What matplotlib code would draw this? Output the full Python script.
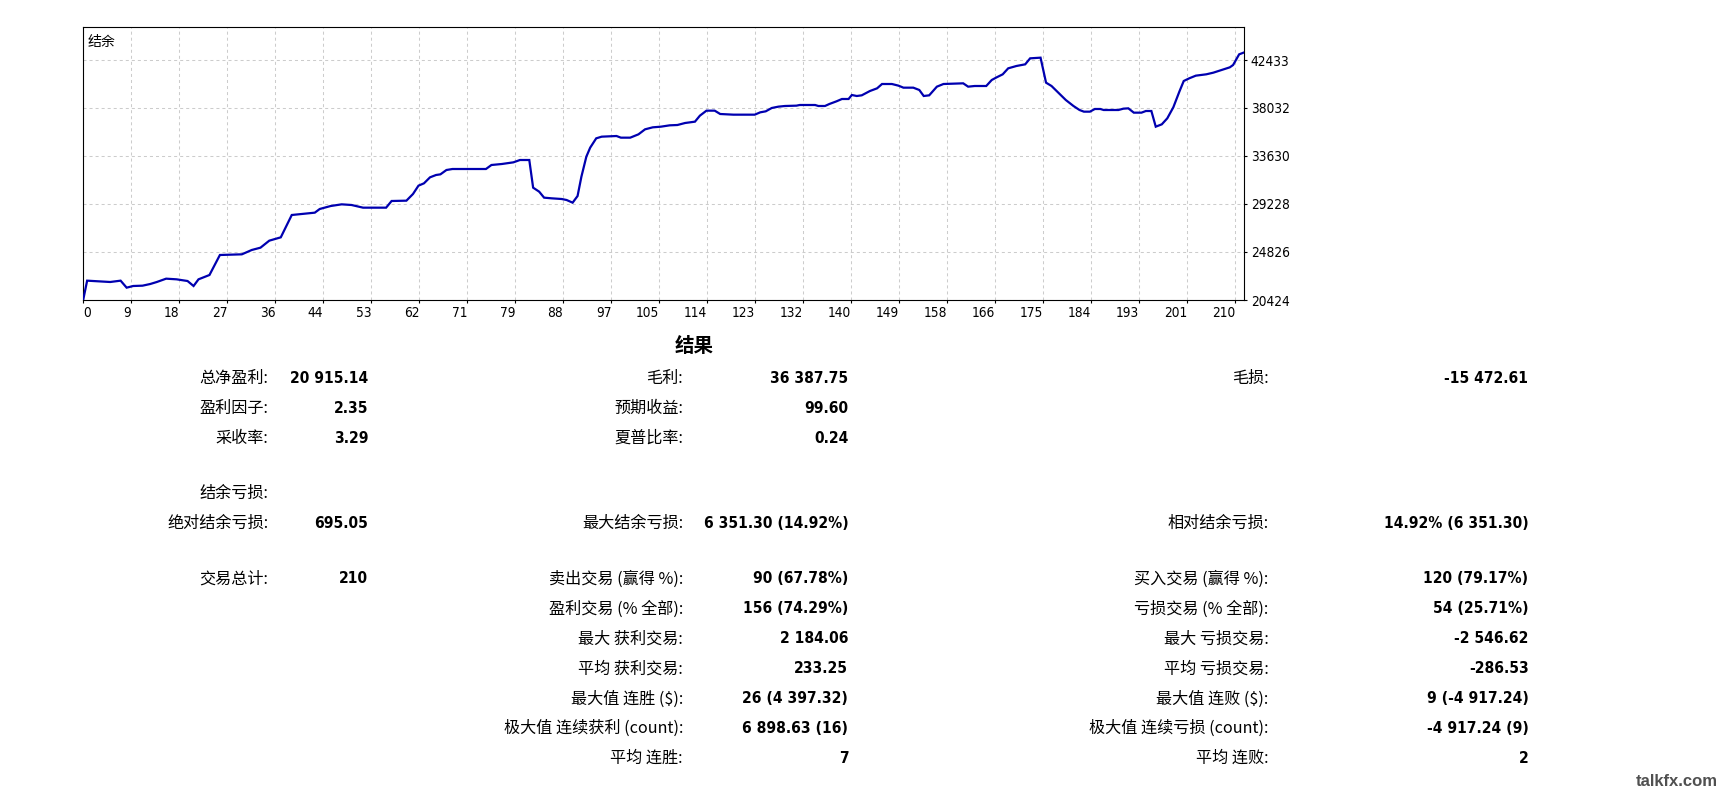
import matplotlib
matplotlib.use('Agg')
import matplotlib.pyplot as plt
from matplotlib.ticker import FixedLocator, FixedFormatter
from matplotlib import font_manager as fm

W, H, DPI = 1729, 792, 100

# ---------------- data ----------------
trade_no = [0, 0.7, 4.9, 6.8, 7.9, 9.1, 10.8, 12.2, 13.4, 15.1, 17.0, 19.0, 20.1, 21.0, 23.0,
            24.9, 28.9, 30.7, 32.3, 33.9, 36.0, 38.0, 42.2, 43.1, 45.1, 47.1, 48.9, 51.0, 55.2,
            56.2, 58.9, 60.1, 61.1, 62.1, 63.2, 64.3, 65.1, 66.2, 67.3, 73.4, 74.4, 76.3, 78.4,
            79.6, 81.3, 82.0, 83.1, 84.0, 85.4, 87.2,
            88.1, 89.2, 90.1, 90.8, 91.7, 92.4, 93.5, 94.5, 97.2, 98.0, 99.7, 101.2, 102.4,
            103.8, 105.3, 106.9, 108.3, 109.7, 111.5, 112.4, 113.6, 115.1, 116.1, 118.5, 122.4,
            123.4, 124.4, 125.5, 126.7, 127.9, 130.0, 130.6, 133.4, 134.0, 135.2, 136.0, 137.3,
            138.3, 139.5, 140.1, 141.0, 141.9, 143.4, 144.7, 145.6, 147.4, 148.6, 149.5, 151.3,
            152.4, 153.2, 154.2, 155.6, 156.8, 160.4, 161.3, 162.5, 164.6, 165.6, 166.5, 167.6,
            168.6, 170.1, 171.7, 172.6, 174.5,
            175.5, 176.5, 178.0, 179.1, 180.5, 181.6, 182.4, 183.5, 184.4, 185.4, 186.0, 188.7,
            189.6, 190.5, 191.5, 192.9, 193.7, 194.7, 195.5, 196.6, 197.6, 198.7, 199.8, 200.6,
            201.6, 202.8, 204.7, 206.0, 207.5, 209.0, 209.6, 210.7, 211.5]

balance = [20480, 22197, 22075, 22197, 21555, 21708, 21738, 21891, 22075, 22380, 22320, 22166,
           21708, 22320, 22717,
           24551, 24612, 25009, 25223, 25865, 26171, 28219, 28433, 28770, 29044, 29197, 29136,
           28891, 28891,
           29503, 29533, 30145, 30909, 31123, 31673, 31887, 31948, 32346, 32437, 32437, 32804,
           32896, 33048,
           33262, 33262, 30726, 30359, 29809, 29747, 29686,
           29594, 29350, 29961, 31734, 33568, 34394, 35250, 35402, 35463, 35311, 35311, 35616,
           36075,
           36258, 36319, 36442, 36472, 36656, 36778, 37328, 37787, 37787, 37481, 37420, 37420,
           37634, 37726, 38032, 38154, 38215, 38246, 38307, 38307, 38215, 38215, 38398, 38643,
           38857, 38857, 39223, 39132, 39193, 39590, 39835, 40232, 40232, 40080, 39896, 39896,
           39682, 39132, 39193, 39988, 40232, 40294, 39988, 40049, 40049, 40599, 40844, 41119,
           41669, 41883, 42036, 42586, 42647,
           40355, 40049, 39315, 38765, 38215, 37848, 37695, 37695, 37940, 37940, 37848, 37848,
           37970, 38001, 37604, 37604, 37756, 37756, 36319, 36533, 37084, 38093, 39529, 40507,
           40752, 40997, 41119, 41272, 41516, 41761, 41975, 42953, 43106]

x_tick_labels = ['0', '9', '18', '27', '36', '44', '53', '62', '71', '79', '88', '97', '105',
                 '114', '123', '132', '140', '149', '158', '166', '175', '184', '193', '201', '210']
y_tick_values = [20424, 24826, 29228, 33630, 38032, 42433]
chart_label = '结余'

title = '结果'
col1_labels = ['总净盈利:', '盈利因子:', '采收率:', '结余亏损:', '绝对结余亏损:', '交易总计:',
               '', '', '', '', '', '']
col1_values = ['20 915.14', '2.35', '3.29', '', '695.05', '210', '', '', '', '', '', '']
col2_labels = ['毛利:', '预期收益:', '夏普比率:', '', '最大结余亏损:', '卖出交易 (赢得 %):',
               '盈利交易 (% 全部):', '最大 获利交易:', '平均 获利交易:', '最大值 连胜 ($):',
               '极大值 连续获利 (count):', '平均 连胜:']
col2_values = ['36 387.75', '99.60', '0.24', '', '6 351.30 (14.92%)', '90 (67.78%)',
               '156 (74.29%)', '2 184.06', '233.25', '26 (4 397.32)', '6 898.63 (16)', '7']
col3_labels = ['毛损:', '', '', '', '相对结余亏损:', '买入交易 (赢得 %):', '亏损交易 (% 全部):',
               '最大 亏损交易:', '平均 亏损交易:', '最大值 连败 ($):', '极大值 连续亏损 (count):',
               '平均 连败:']
col3_values = ['-15 472.61', '', '', '', '14.92% (6 351.30)', '120 (79.17%)', '54 (25.71%)',
               '-2 546.62', '-286.53', '9 (-4 917.24)', '-4 917.24 (9)', '2']
watermark = 'talkfx.com'

# ---------------- fonts ----------------
plt.rcParams['font.family'] = ['Noto Sans CJK SC', 'DejaVu Sans']

def has_condensed(weight):
    for f in fm.fontManager.ttflist:
        if f.name == 'DejaVu Sans' and 'ondensed' in str(f.stretch) + f.fname \
                and (f.weight == 700) == (weight == 'bold'):
            return True
    return False

COND_BOLD = has_condensed('bold')
COND_REG = has_condensed('normal')
val_kw = dict(family='DejaVu Sans', fontweight='bold',
              fontstretch='condensed' if COND_BOLD else 'normal',
              fontsize=11.2 if COND_BOLD else 10.4)
tick_kw = dict(family='DejaVu Sans', stretch='condensed' if COND_REG else 'normal',
               size=9.8 if COND_REG else 9.3)

fig = plt.figure(figsize=(W / DPI, H / DPI), dpi=DPI)
fig.patch.set_facecolor('white')

def fx(px):
    return px / W

def fy(py):
    return 1 - py / H

ax_l, ax_r, ax_t, ax_b = 83.3, 1244.0, 27.3, 300.0
ax = fig.add_axes([fx(ax_l), fy(ax_b), fx(ax_r) - fx(ax_l), fy(ax_t) - fy(ax_b)])

ax.plot(trade_no, balance, color='#0000b0', lw=1.6, solid_joinstyle='miter', zorder=3)

step = 210 / 24
xticks = [i * step for i in range(len(x_tick_labels))]
ystep = (y_tick_values[-1] - y_tick_values[0]) / (len(y_tick_values) - 1)
ax.set_xlim(0, (ax_r - ax_l) / 48 * step)
ax.set_ylim(y_tick_values[0], y_tick_values[0] + (ax_b - ax_t) / 48 * ystep)

ax.xaxis.set_major_locator(FixedLocator(xticks))
ax.xaxis.set_major_formatter(FixedFormatter(x_tick_labels))
ax.yaxis.set_major_locator(FixedLocator(y_tick_values))
ax.yaxis.set_major_formatter(FixedFormatter([str(v) for v in y_tick_values]))
ax.yaxis.tick_right()

ax.tick_params(axis='both', direction='out', length=2.3, width=0.8, color='black',
               labelcolor='black')
ax.tick_params(axis='x', pad=2)
ax.tick_params(axis='y', pad=2.6)
tick_fp = fm.FontProperties(**tick_kw)
for lab in ax.get_xticklabels() + ax.get_yticklabels():
    lab.set_fontproperties(tick_fp)
xl = ax.get_xticklabels()
for i, lab in enumerate(xl):
    lab.set_ha('left' if i == 0 else 'right')

ax.grid(True, color='#cccccc', lw=0.75, linestyle=(0, (2.9, 2.9)), zorder=0)
for sp in ax.spines.values():
    sp.set_color('black')
    sp.set_linewidth(0.8)

ax.text(0.004, 0.97, chart_label, transform=ax.transAxes, ha='left', va='top',
        fontsize=10, color='black', family=['Noto Sans CJK SC', 'DejaVu Sans'])

# ---------------- statistics block ----------------
fig.text(fx(694.5), fy(346), title, ha='center', va='center', fontsize=14,
         fontweight='bold', color='black', family=['Noto Sans CJK SC', 'DejaVu Sans'])

row_y = [378.5, 408.5, 438.5, 493.3, 523.3, 578.8, 608.8, 638.8, 668.8, 698.8, 728.3, 758.3]
cols = [(268.3, 368.3, col1_labels, col1_values),
        (683.0, 848.3, col2_labels, col2_values),
        (1268.3, 1528.5, col3_labels, col3_values)]
for lab_x, val_x, labels, values in cols:
    for y, lab, val in zip(row_y, labels, values):
        if lab:
            fig.text(fx(lab_x), fy(y), lab, ha='right', va='center', fontsize=11.6,
                     color='black', family=['Noto Sans CJK SC', 'DejaVu Sans'],
                     parse_math=False)
        if val:
            fig.text(fx(val_x), fy(y), val, ha='right', va='center', color='black',
                     parse_math=False, **val_kw)

fig.text(fx(1677), fy(781), watermark, ha='center', va='center', fontsize=12,
         fontweight='bold', color='#505050', family='Liberation Sans')

fig.savefig('out.png', dpi=DPI, facecolor='white')
